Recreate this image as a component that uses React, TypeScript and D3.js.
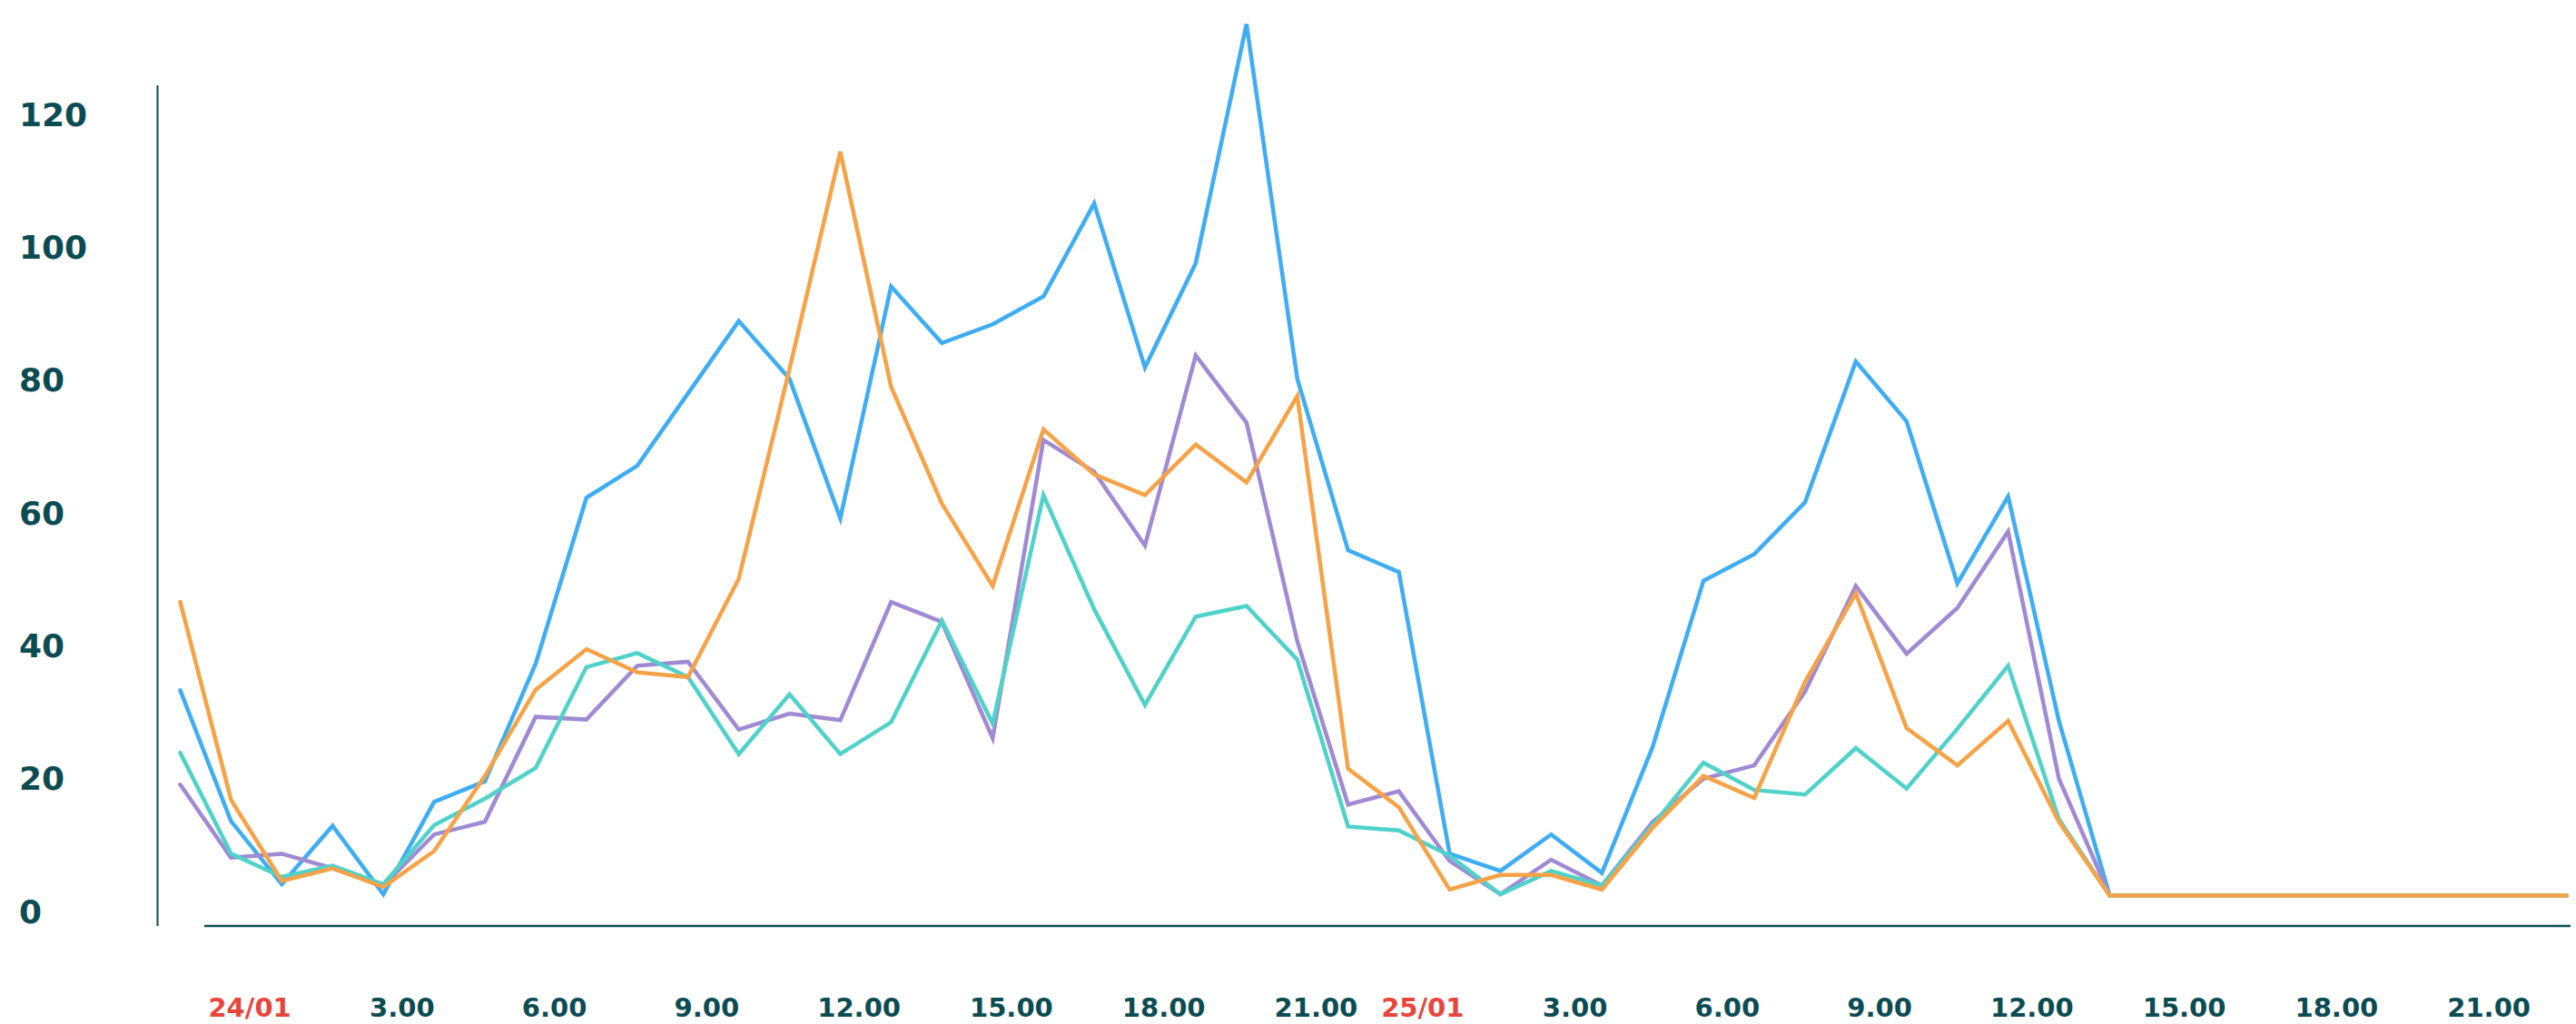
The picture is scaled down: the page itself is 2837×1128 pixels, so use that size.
import React from "react";
import * as d3 from "d3";

// hourly values, 24/01 00:00 → 25/01 23:00
const hours: number[] = d3.range(48);

const blueSeries: number[] = [30.9, 11.2, 1.7, 10.5, 0.2, 14.1, 17.2, 34.9, 59.9, 64.7, 75.6, 86.5, 77.8, 56.8, 91.7, 83.2, 86.0, 90.2, 104.2, 79.5, 95.2, 131.2, 77.8, 52.0, 48.7, 6.3, 3.7, 9.2, 3.4, 22.4, 47.4, 51.4, 59.2, 80.4, 71.4, 47.0, 60.1, 26.3, 0, 0, 0, 0, 0, 0, 0, 0, 0, 0];
const purpleSeries: number[] = [16.7, 5.7, 6.3, 4.1, 1.5, 9.2, 11.1, 26.9, 26.5, 34.6, 35.2, 25.0, 27.4, 26.4, 44.2, 41.2, 23.7, 68.6, 63.8, 52.7, 81.3, 71.2, 38.3, 13.7, 15.7, 5.2, 0.2, 5.4, 1.5, 11.1, 17.6, 19.6, 30.7, 46.6, 36.4, 43.3, 54.8, 17.6, 0, 0, 0, 0, 0, 0, 0, 0, 0, 0];
const turquoiseSeries: number[] = [21.5, 6.3, 2.8, 4.5, 1.7, 10.6, 14.6, 19.2, 34.4, 36.5, 32.9, 21.3, 30.3, 21.3, 26.1, 41.4, 25.9, 60.3, 43.1, 28.7, 42.0, 43.6, 35.5, 10.4, 9.8, 6.0, 0.2, 3.7, 1.5, 10.6, 20.0, 15.9, 15.2, 22.2, 16.1, 25.1, 34.6, 11.5, 0, 0, 0, 0, 0, 0, 0, 0, 0, 0];
const orangeSeries: number[] = [44.2, 14.4, 2.2, 4.1, 1.3, 6.7, 18.0, 31.0, 37.1, 33.6, 32.9, 47.7, 79.3, 112.0, 76.6, 59.0, 46.6, 70.2, 63.4, 60.3, 67.9, 62.2, 75.2, 19.1, 13.3, 0.9, 3.1, 3.1, 0.9, 10.2, 18.0, 14.7, 32.2, 45.5, 25.2, 19.6, 26.3, 11.1, 0, 0, 0, 0, 0, 0, 0, 0, 0, 0];

const yTicks: number[] = [0, 20, 40, 60, 80, 100, 120];
const xTickHours: number[] = [0, 3, 6, 9, 12, 15, 18, 21, 24, 27, 30, 33, 36, 39, 42, 45];
const xTickLabels: string[] = ["24/01", "3.00", "6.00", "9.00", "12.00", "15.00", "18.00", "21.00", "25/01", "3.00", "6.00", "9.00", "12.00", "15.00", "18.00", "21.00"];

const seriesList = [
  { key: "blue", values: blueSeries, color: "#3fadf3" },
  { key: "purple", values: purpleSeries, color: "#a08ad4" },
  { key: "turquoise", values: turquoiseSeries, color: "#4fd2c9" },
  { key: "orange", values: orangeSeries, color: "#f7a246" },
];

const W = 2837;
const H = 1128;
const TEAL = "#0b4c53";
const RED = "#e8463c";

export default function App() {
  const x = d3.scaleLinear().domain([0, 47]).range([198.5, 2826.7]);
  const y = d3.scaleLinear().domain([0, 120]).range([986.5, 108.5]);
  const step = x(1) - x(0);
  const line = d3
    .line<number>()
    .x((_, i) => x(hours[i]))
    .y((d) => y(d));

  const labelOffset = (h: number) => (h < 24 ? 1.37 : 0.47) * step;

  return (
    <svg
      width={W}
      height={H}
      style={{ position: "absolute", left: 0, top: 0, display: "block", background: "#fff" }}
    >
      <rect x={0} y={0} width={W} height={H} fill="#fff" />
      {/* axes */}
      <line x1={173.5} x2={173.5} y1={94} y2={1020} stroke={TEAL} strokeWidth={2} />
      <line x1={225} x2={2831} y1={1020} y2={1020} stroke={TEAL} strokeWidth={2.5} />
      {/* y tick labels */}
      {yTicks.map((v) => (
        <text
          key={v}
          x={21}
          y={y(v) + 30}
          fill={TEAL}
          fontFamily="DejaVu Sans"
          fontWeight="bold"
          fontSize={36}
        >
          {v}
        </text>
      ))}
      {/* x tick labels */}
      {xTickHours.map((h, i) => (
        <text
          key={i}
          x={x(h) + labelOffset(h)}
          y={1120}
          textAnchor="middle"
          fill={h % 24 === 0 ? RED : TEAL}
          fontFamily="DejaVu Sans"
          fontWeight="bold"
          fontSize={29}
        >
          {xTickLabels[i]}
        </text>
      ))}
      {/* lines */}
      {seriesList.map((s) => (
        <path
          key={s.key}
          d={line(s.values) || ""}
          fill="none"
          stroke={s.color}
          strokeWidth={4.5}
          strokeLinecap="round"
          strokeLinejoin="miter"
        />
      ))}
    </svg>
  );
}
